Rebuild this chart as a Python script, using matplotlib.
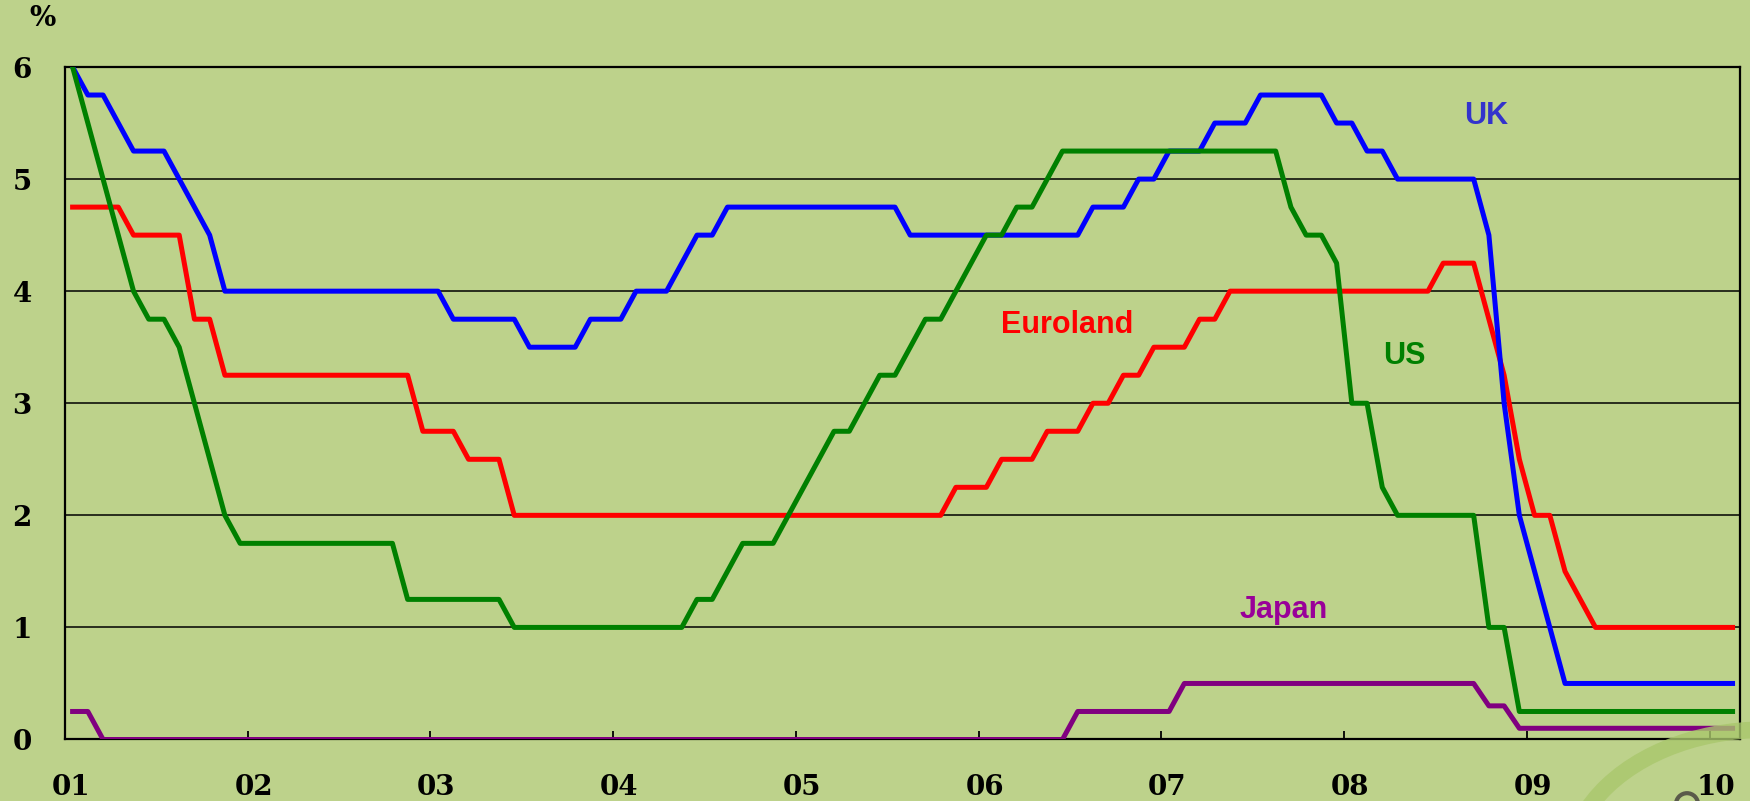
import numpy as np
import matplotlib
matplotlib.use("Agg")
import matplotlib.pyplot as plt
from matplotlib.patches import Arc, Ellipse
from matplotlib.transforms import ScaledTranslation

# policy rates, breakpoints as (months since Jan 2001, rate %)
uk_months = [0, 1, 2, 3, 4, 6, 7, 8, 9, 10, 24, 25, 29, 30, 33, 34, 36, 37, 39, 40,
             41, 42, 43, 54, 55, 66, 67, 69, 70, 71, 72, 74, 75, 77, 78, 82, 83, 84,
             85, 86, 87, 92, 93, 94, 95, 96, 97, 98, 109]
uk_rates = [6.0, 5.75, 5.75, 5.5, 5.25, 5.25, 5.0, 4.75, 4.5, 4.0, 4.0, 3.75, 3.75,
            3.5, 3.5, 3.75, 3.75, 4.0, 4.0, 4.25, 4.5, 4.5, 4.75, 4.75, 4.5, 4.5,
            4.75, 4.75, 5.0, 5.0, 5.25, 5.25, 5.5, 5.5, 5.75, 5.75, 5.5, 5.5, 5.25,
            5.25, 5.0, 5.0, 4.5, 3.0, 2.0, 1.5, 1.0, 0.5, 0.5]

euro_months = [0, 3, 4, 7, 8, 9, 10, 22, 23, 25, 26, 28, 29, 57, 58, 60, 61, 63, 64,
               66, 67, 68, 69, 70, 71, 73, 74, 75, 76, 89, 90, 92, 93, 94, 95, 96,
               97, 98, 99, 100, 109]
euro_rates = [4.75, 4.75, 4.5, 4.5, 3.75, 3.75, 3.25, 3.25, 2.75, 2.75, 2.5, 2.5,
              2.0, 2.0, 2.25, 2.25, 2.5, 2.5, 2.75, 2.75, 3.0, 3.0, 3.25, 3.25, 3.5,
              3.5, 3.75, 3.75, 4.0, 4.0, 4.25, 4.25, 3.75, 3.25, 2.5, 2.0, 2.0, 1.5,
              1.25, 1.0, 1.0]

us_months = [0, 1, 2, 3, 4, 5, 6, 7, 8, 9, 10, 11, 21, 22, 28, 29, 40, 41, 42, 43,
             44, 46, 47, 48, 49, 50, 51, 52, 53, 54, 55, 56, 57, 58, 59, 60, 61, 62,
             63, 64, 65, 79, 80, 81, 82, 83, 84, 85, 86, 87, 92, 93, 94, 95, 109]
us_rates = [6.0, 5.5, 5.0, 4.5, 4.0, 3.75, 3.75, 3.5, 3.0, 2.5, 2.0, 1.75, 1.75,
            1.25, 1.25, 1.0, 1.0, 1.25, 1.25, 1.5, 1.75, 1.75, 2.0, 2.25, 2.5, 2.75,
            2.75, 3.0, 3.25, 3.25, 3.5, 3.75, 3.75, 4.0, 4.25, 4.5, 4.5, 4.75, 4.75,
            5.0, 5.25, 5.25, 4.75, 4.5, 4.5, 4.25, 3.0, 3.0, 2.25, 2.0, 2.0, 1.0,
            1.0, 0.25, 0.25]

japan_months = [0, 1, 2, 65, 66, 72, 73, 92, 93, 94, 95, 109]
japan_rates = [0.25, 0.25, 0.0, 0.0, 0.25, 0.25, 0.5, 0.5, 0.3, 0.3, 0.1, 0.1]

year_ticks = list(range(2001, 2011))
year_labels = ["01", "02", "03", "04", "05", "06", "07", "08", "09", "10"]


def to_year(months):
    # monthly points sit mid-month
    return 2001 + (np.asarray(months, dtype=float) + 0.5) / 12.0


bg = "#BDD28B"
fig = plt.figure(figsize=(17.5, 8.01), dpi=100, facecolor=bg)

# faint logo swoosh in the bottom-right corner
fig.patches.append(Arc((1.0086, -0.086), 0.225, 0.35, theta1=85, theta2=215,
                       transform=fig.transFigure, color="#A9C76C", lw=12,
                       alpha=0.8, zorder=0))
fig.patches.append(Ellipse((0.964, -0.004), 0.0126, 0.0275, transform=fig.transFigure,
                           fill=False, edgecolor="#5A5A4A", lw=3, zorder=0))

ax = fig.add_axes([0.03714, 0.07678, 0.95686, 0.83957])
ax.set_facecolor("none")

lw = 3.6
ax.plot(to_year(uk_months), uk_rates, color="#0000FF", lw=lw, zorder=4)
ax.plot(to_year(euro_months), euro_rates, color="#FF0000", lw=lw, zorder=3)
ax.plot(to_year(us_months), us_rates, color="#008000", lw=lw, zorder=5)
ax.plot(to_year(japan_months), japan_rates, color="#800080", lw=lw, zorder=3)

lab_font = dict(family="Liberation Sans", fontsize=22, fontweight="bold",
                ha="center", va="baseline")
ax.text(2008.775, 5.49, "UK", color="#3333CC", **lab_font)
ax.text(2006.484, 3.63, "Euroland", color="#FF0000", **lab_font)
ax.text(2008.329, 3.35, "US", color="#008000", **lab_font)
ax.text(2007.67, 1.085, "Japan", color="#990099", **lab_font)

ax.set_xlim(2001, 2010.163)
ax.set_ylim(0, 6)
ax.set_yticks(range(0, 7))
ax.set_xticks(year_ticks)
ax.set_xticklabels(year_labels)
ax.grid(axis="y", color="black", lw=1.1, zorder=1)
ax.grid(axis="x", visible=False)
for sp in ax.spines.values():
    sp.set_color("black")
    sp.set_linewidth(1.6)

tick_font = dict(family="DejaVu Serif", fontsize=20, fontweight="bold")
ax.tick_params(axis="x", direction="in", length=6, width=1.3, pad=25)
ax.tick_params(axis="y", length=0, pad=24)
for lbl in ax.get_xticklabels() + ax.get_yticklabels():
    lbl.set_fontfamily(tick_font["family"])
    lbl.set_fontsize(tick_font["fontsize"])
    lbl.set_fontweight(tick_font["fontweight"])
shift = ScaledTranslation(0.06, 0, fig.dpi_scale_trans)
for lbl in ax.get_xticklabels():
    lbl.set_transform(lbl.get_transform() + shift)

fig.text(42 / 1750, 1 - 19 / 801, "%", ha="center", va="center", **tick_font)

fig.savefig("out.png", dpi=100, facecolor=bg)
